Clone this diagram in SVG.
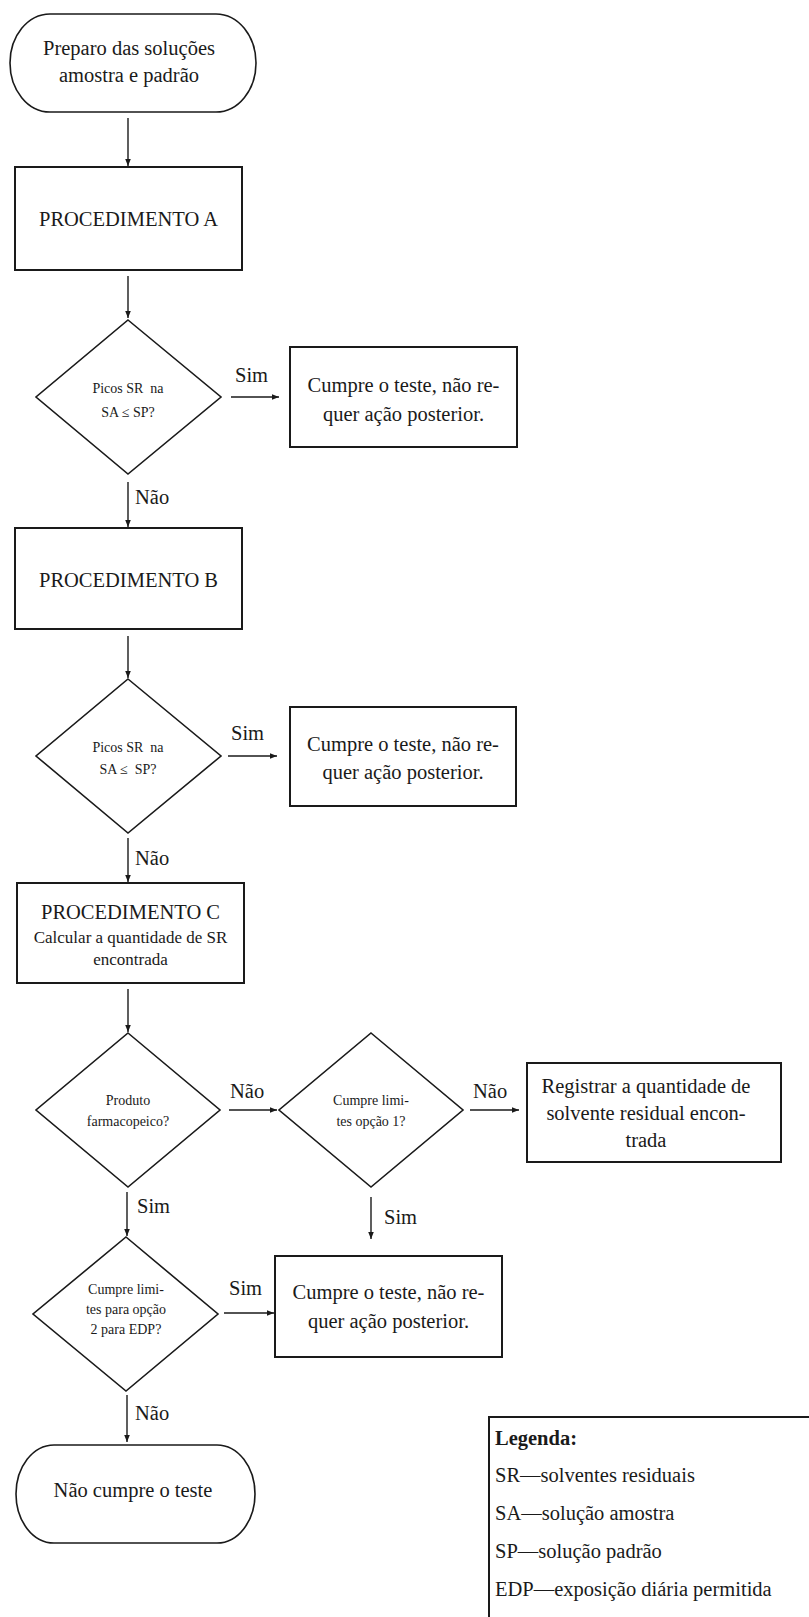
<svg xmlns="http://www.w3.org/2000/svg" width="809" height="1617" viewBox="0 0 809 1617">
<style>
  .bg { fill: #ffffff; }
  .box { fill: #ffffff; stroke: #1a1a1a; stroke-width: 2; }
  .dia { fill: #ffffff; stroke: #1a1a1a; stroke-width: 1.6; }
  .term { fill: #ffffff; stroke: #1a1a1a; stroke-width: 1.6; }
  .conn { fill: none; stroke: #1a1a1a; stroke-width: 1.4; marker-end: url(#arrow); }
  text { font-family: "Liberation Serif", "Times New Roman", serif; fill: #1a1a1a; }
  .t { font-size: 20.5px; text-anchor: middle; }
  .ts { font-size: 17px; text-anchor: middle; }
  .td { font-size: 14px; text-anchor: middle; }
  .lbl { font-size: 20.5px; }
  .leg { font-size: 20.5px; }
  .legh { font-size: 20.5px; font-weight: bold; }
</style>
<defs>
  <marker id="arrow" markerUnits="userSpaceOnUse" markerWidth="8" markerHeight="8" viewBox="0 0 8 8" refX="7" refY="4" orient="auto">
    <path d="M0,1.2 L7,4 L0,6.8 Z" fill="#1a1a1a"/>
  </marker>
</defs>
<rect class="bg" x="0" y="0" width="809" height="1617"/>

<g id="connectors">
  <line class="conn" x1="128" y1="118" x2="128" y2="166"/>
  <line class="conn" x1="128" y1="276" x2="128" y2="318"/>
  <line class="conn" x1="231" y1="397" x2="279" y2="397"/>
  <line class="conn" x1="128" y1="482" x2="128" y2="527"/>
  <line class="conn" x1="128" y1="636" x2="128" y2="678"/>
  <line class="conn" x1="228" y1="756" x2="277" y2="756"/>
  <line class="conn" x1="128" y1="838" x2="128" y2="882"/>
  <line class="conn" x1="128" y1="989" x2="128" y2="1032"/>
  <line class="conn" x1="229" y1="1110" x2="277" y2="1110"/>
  <line class="conn" x1="470" y1="1110" x2="519" y2="1110"/>
  <line class="conn" x1="127" y1="1192" x2="127" y2="1236"/>
  <line class="conn" x1="371" y1="1197" x2="371" y2="1239"/>
  <line class="conn" x1="224" y1="1313" x2="274" y2="1313"/>
  <line class="conn" x1="127" y1="1395" x2="127" y2="1442"/>
  <text class="lbl" x="235" y="382">Sim</text>
  <text class="lbl" x="135" y="504">Não</text>
  <text class="lbl" x="231" y="740">Sim</text>
  <text class="lbl" x="135" y="865">Não</text>
  <text class="lbl" x="230" y="1098">Não</text>
  <text class="lbl" x="473" y="1098">Não</text>
  <text class="lbl" x="137" y="1213">Sim</text>
  <text class="lbl" x="384" y="1224">Sim</text>
  <text class="lbl" x="229" y="1295">Sim</text>
  <text class="lbl" x="135" y="1420">Não</text>
</g>

<g id="start">
  <rect class="term" x="10" y="14" width="246" height="98" rx="40" ry="49"/>
  <text class="t" x="129" y="55">Preparo das soluções</text>
  <text class="t" x="129" y="82">amostra e padrão</text>
</g>

<g id="procA">
  <rect class="box" x="15" y="167" width="227" height="103"/>
  <text class="t" x="128.5" y="226">PROCEDIMENTO A</text>
</g>

<g id="decisionA">
  <polygon class="dia" points="128,320 221,397 128,474 36,397"/>
  <text class="td" x="128" y="393" xml:space="preserve">Picos SR  na</text>
  <text class="td" x="128" y="417">SA ≤ SP?</text>
</g>

<g id="passA">
  <rect class="box" x="290" y="347" width="227" height="100"/>
  <text class="t" x="403.5" y="392">Cumpre o teste, não re-</text>
  <text class="t" x="403.5" y="421">quer ação posterior.</text>
</g>

<g id="procB">
  <rect class="box" x="15" y="528" width="227" height="101"/>
  <text class="t" x="128.5" y="587">PROCEDIMENTO B</text>
</g>

<g id="decisionB">
  <polygon class="dia" points="128,679 221,756 128,833 36,756"/>
  <text class="td" x="128" y="752" xml:space="preserve">Picos SR  na</text>
  <text class="td" x="128" y="774" xml:space="preserve">SA ≤  SP?</text>
</g>

<g id="passB">
  <rect class="box" x="290" y="707" width="226" height="99"/>
  <text class="t" x="403" y="751">Cumpre o teste, não re-</text>
  <text class="t" x="403" y="779">quer ação posterior.</text>
</g>

<g id="procC">
  <rect class="box" x="17" y="883" width="227" height="100"/>
  <text class="t" x="130.5" y="919">PROCEDIMENTO C</text>
  <text class="ts" x="130.5" y="943">Calcular a quantidade de SR</text>
  <text class="ts" x="130.5" y="965">encontrada</text>
</g>

<g id="decisionPharm">
  <polygon class="dia" points="128,1033 220,1110 128,1187 36,1110"/>
  <text class="td" x="128" y="1105">Produto</text>
  <text class="td" x="128" y="1126">farmacopeico?</text>
</g>

<g id="decisionOpt1">
  <polygon class="dia" points="371,1033 463,1110 371,1187 279,1110"/>
  <text class="td" x="371" y="1105">Cumpre limi-</text>
  <text class="td" x="371" y="1126">tes opção 1?</text>
</g>

<g id="record">
  <rect class="box" x="527" y="1063" width="254" height="99"/>
  <text class="t" x="646" y="1093">Registrar a quantidade de</text>
  <text class="t" x="646" y="1120">solvente residual encon-</text>
  <text class="t" x="646" y="1147">trada</text>
</g>

<g id="decisionOpt2">
  <polygon class="dia" points="126,1237 218,1314 126,1391 33,1314"/>
  <text class="td" x="126" y="1294">Cumpre limi-</text>
  <text class="td" x="126" y="1314">tes para opção</text>
  <text class="td" x="126" y="1334">2 para EDP?</text>
</g>

<g id="passC">
  <rect class="box" x="275" y="1256" width="227" height="101"/>
  <text class="t" x="388.5" y="1299">Cumpre o teste, não re-</text>
  <text class="t" x="388.5" y="1328">quer ação posterior.</text>
</g>

<g id="fail">
  <rect class="term" x="16" y="1445" width="239" height="98" rx="38" ry="49"/>
  <text class="t" x="133" y="1497">Não cumpre o teste</text>
</g>

<g id="legend">
  <rect class="box" x="489" y="1417" width="340" height="220"/>
  <text class="legh" x="495" y="1445">Legenda:</text>
  <text class="leg" x="495" y="1482">SR—solventes residuais</text>
  <text class="leg" x="495" y="1520">SA—solução amostra</text>
  <text class="leg" x="495" y="1558">SP—solução padrão</text>
  <text class="leg" x="495" y="1596">EDP—exposição diária permitida</text>
</g>
</svg>
